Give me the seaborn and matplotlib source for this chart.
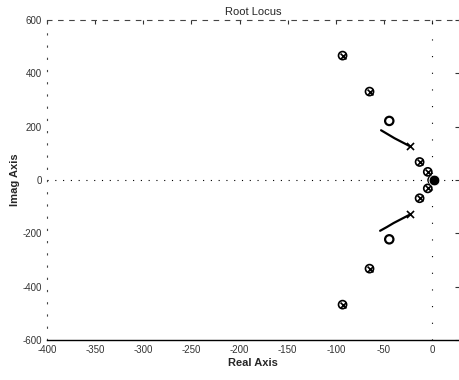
import matplotlib
matplotlib.use("Agg")
import matplotlib.pyplot as plt
import seaborn as sns
import pandas as pd

# ---- data ----
# coincident pole/zero pairs (drawn as circle + cross)
pz_real = [-93, -65, -13, -4.5, 0, -4.5, -13, -65, -93]
pz_imag = [467, 332, 68, 31, 0, -31, -68, -332, -467]
# zeros alone
zero_real = [-44.5, -44.5]
zero_imag = [222, -222]
# poles alone
pole_real = [-23, -23]
pole_imag = [127, -127]
# locus branches
br_upper_real = [-23, -31, -39, -46, -53]
br_upper_imag = [127, 142, 157, 172, 187]
br_lower_real = [-24, -32, -40, -47, -54]
br_lower_imag = [-131, -146, -161, -176, -190]

xticks = [-400, -350, -300, -250, -200, -150, -100, -50, 0]
yticks = [-600, -400, -200, 0, 200, 400, 600]

sns.set_style("white")
plt.rcParams['font.family'] = ['Liberation Sans', 'DejaVu Sans']

fig = plt.figure(figsize=(4.6, 3.8), dpi=100)
ax = fig.add_axes([0.102, 0.105, 0.896, 0.842])

# reference dotted axes lines
ax.axhline(0, color='black', lw=0.8, ls=(0, (1, 6)), zorder=1)
ax.axvline(0, color='black', lw=0.8, ls=(0, (1, 14)), zorder=1)

# branches
sns.lineplot(x=br_upper_real, y=br_upper_imag, sort=False, color='black', lw=1.6, ax=ax)
sns.lineplot(x=br_lower_real, y=br_lower_imag, sort=False, color='black', lw=1.6, ax=ax)

# markers
sns.scatterplot(x=pz_real, y=pz_imag, marker='o', s=34, facecolor='none',
                edgecolor='black', linewidth=1.2, ax=ax, zorder=3)
sns.scatterplot(x=pz_real, y=pz_imag, marker='x', s=18, color='black',
                linewidth=1.2, ax=ax, zorder=3)
sns.scatterplot(x=zero_real, y=zero_imag, marker='o', s=36, facecolor='none',
                edgecolor='black', linewidth=1.6, ax=ax, zorder=3)
sns.scatterplot(x=pole_real, y=pole_imag, marker='x', s=26, color='black',
                linewidth=1.2, ax=ax, zorder=3)
# heavy blob at origin
sns.scatterplot(x=[1.5], y=[0], marker='o', s=60, color='black', ax=ax, zorder=4)

ax.set_xlim(-400, 28)
ax.set_ylim(-600, 600)
ax.set_xticks(xticks)
ax.set_yticks(yticks)
ax.set_xticklabels([str(t) for t in xticks], fontsize=7, color='#333333')
ax.set_yticklabels([str(t) for t in yticks], fontsize=7, color='#333333')
ax.tick_params(direction='in', length=3, width=0.8, colors='#333333', top=True, right=True)

ax.spines['top'].set_linestyle((0, (4, 6)))
ax.spines['top'].set_linewidth(0.8)
ax.spines['top'].set_color('#444444')
ax.spines['left'].set_linestyle((0, (1, 10)))
ax.spines['left'].set_linewidth(0.8)
ax.spines['left'].set_color('#444444')
ax.spines['bottom'].set_linewidth(1.0)
ax.spines['bottom'].set_color('black')
ax.spines['right'].set_visible(False)

ax.set_title("Root Locus", fontsize=8, pad=4)
ax.set_xlabel("Real Axis", fontsize=8, fontweight='bold', labelpad=2)
ax.set_ylabel("Imag Axis", fontsize=8, fontweight='bold', labelpad=2)

fig.savefig("out.png", dpi=100)
